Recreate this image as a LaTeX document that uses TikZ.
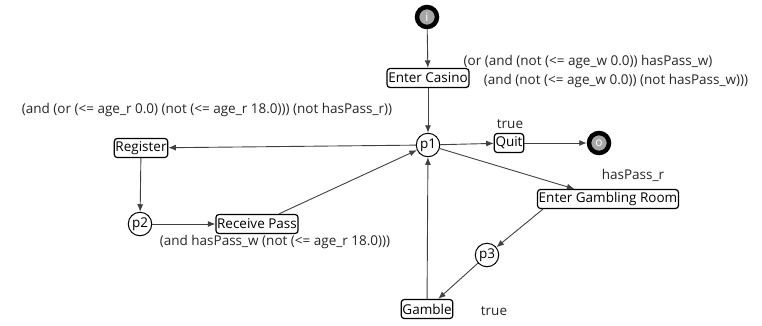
\documentclass[tikz,border=0pt]{standalone}
\usepackage{fontspec}
\setmainfont{Open Sans}
\usetikzlibrary{arrows.meta}
\begin{document}
\begin{tikzpicture}[x=1pt,y=-1pt,
  trans/.style={draw=black, line width=1.2pt, rounded corners=3pt, inner xsep=1.2pt, inner ysep=0pt, minimum height=19pt, font=\fontsize{13.5}{15}\selectfont},
  place/.style={circle, draw=black, line width=1pt, inner sep=0pt, minimum size=23.5pt, font=\fontsize{13.5}{15}\selectfont},
  term/.style={circle, draw=black, line width=4.5pt, fill=gray!70, text=white, minimum size=20pt, inner sep=0pt, font=\fontsize{12}{13}\selectfont},
  arc/.style={draw=black!75, line width=0.9pt, -{Latex[length=7.5pt,width=6pt]}},
  lbl/.style={font=\fontsize{13.5}{15}\selectfont, text=black!85, inner sep=0pt}]
\useasboundingbox (0,0) rectangle (762,325);
% nodes
\node[term] (i) at (427,17) {i};
\node[trans] (ec) at (428,78) {Enter Casino};
\node[place] (p1) at (428,145) {p1};
\node[trans] (quit) at (509,143) {Quit};
\node[term] (o) at (599,143) {o};
\node[trans] (reg) at (141,148) {Register};
\node[place] (p2) at (140,224) {p2};
\node[trans] (rp) at (257,224) {Receive Pass};
\node[trans] (egr) at (608,199) {Enter Gambling Room};
\node[place] (p3) at (487,255) {p3};
\node[trans] (gam) at (427,309) {Gamble};
% labels
\node[lbl] (l1a) at (588,62) {(or (and (not (<= age\_w 0.0)) hasPass\_w)};
\node[lbl] (l1b) at (616,81) {(and (not (<= age\_w 0.0)) (not hasPass\_w)))};
\node[lbl] (l2) at (207,110) {(and (or (<= age\_r 0.0) (not (<= age\_r 18.0))) (not hasPass\_r))};
\node[lbl] (l3) at (510,124) {true};
\node[lbl] (l4) at (633,175) {hasPass\_r};
\node[lbl] (l5) at (275,242) {(and hasPass\_w (not (<= age\_r 18.0)))};
\node[lbl] (l6) at (494,311) {true};
% arcs
\draw[arc] (i) -- (ec);
\draw[arc] (ec) -- (p1);
\draw[arc] (p1) -- (reg);
\draw[arc] (p1) -- (quit);
\draw[arc] (quit) -- (o);
\draw[arc] (p1) -- (egr);
\draw[arc] ([xshift=6pt]egr.south west) -- (p3);
\draw[arc] (p3) -- (gam);
\draw[arc] (gam) -- (p1);
\draw[arc] (reg) -- (p2);
\draw[arc] (p2) -- (rp);
\draw[arc] (rp) -- (p1);
\end{tikzpicture}
\end{document}
